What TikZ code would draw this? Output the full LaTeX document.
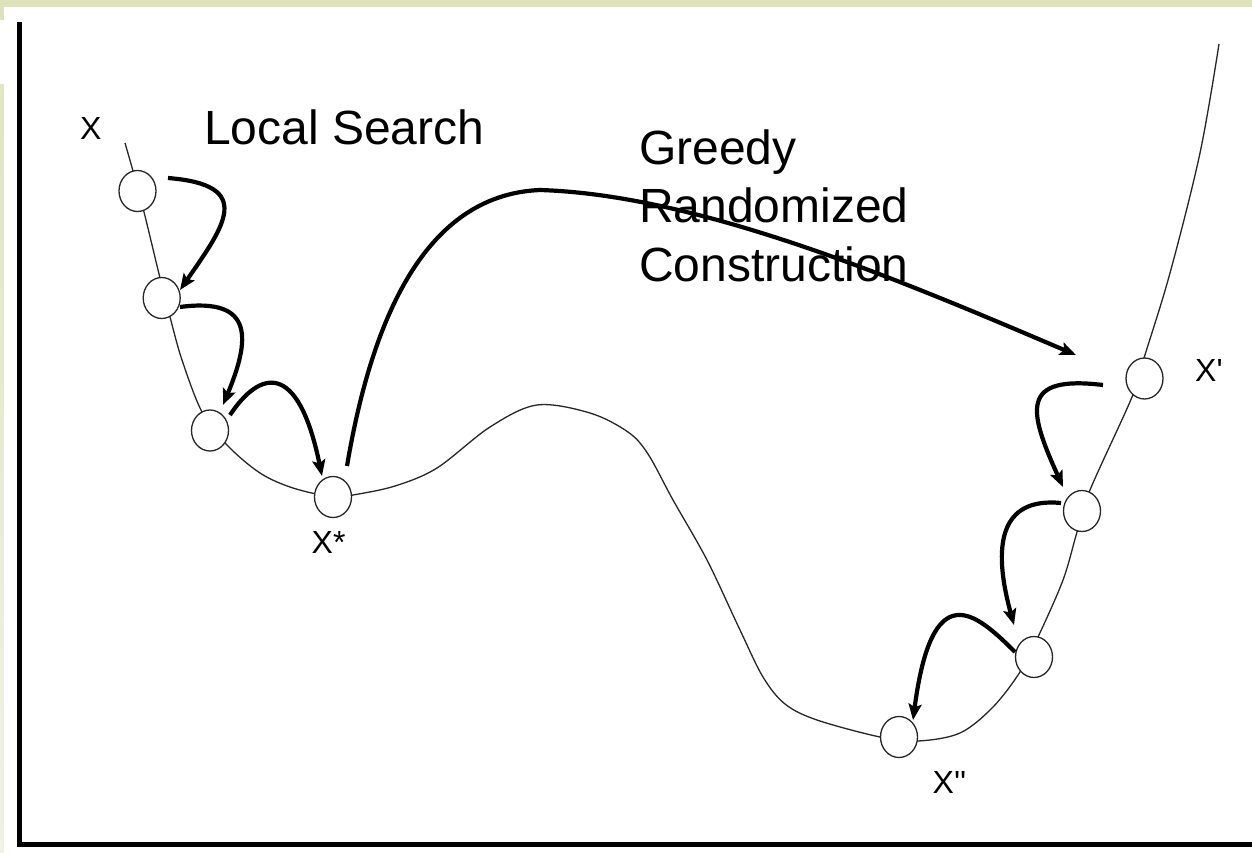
\documentclass[tikz,border=0pt]{standalone}
\usepackage{fontspec}
\setmainfont{Liberation Sans}
\usetikzlibrary{arrows.meta,shapes.geometric}
\definecolor{bandgreen}{RGB}{221,226,185}
\definecolor{bandlight}{RGB}{240,242,226}
\begin{document}
\begin{tikzpicture}[x=1pt,y=-1pt,
  solnode/.style={ellipse, draw=black!85, line width=1.3pt, fill=white,
    minimum width=37pt, minimum height=41pt, inner sep=0pt},
  curveline/.style={black!85, line width=1.3pt},
  lsarrow/.style={line width=4.2pt, -{Stealth[length=16pt,width=13pt,inset=3pt]}},
  axisline/.style={line width=5pt, line join=miter},
  ptlabel/.style={font=\fontsize{32}{38}\selectfont, inner sep=0pt, anchor=base west},
  titletext/.style={font=\fontsize{48}{58}\selectfont, inner sep=0pt, anchor=base west}]
% canvas
\useasboundingbox (0,0) rectangle (1252,853);
\fill[white] (0,0) rectangle (1252,853);
\fill[bandgreen] (0,0) rectangle (1252,7);
\fill[bandgreen] (0,0) rectangle (4,20);
\shade[top color=bandgreen!90!white, bottom color=bandlight] (0,85) rectangle (3.7,853);
% axes
\draw[axisline] (19.8,22) -- (19.8,844) -- (1252,844);
% landscape curve
\draw[curveline] plot[smooth, tension=0.55] coordinates {
 (125,143) (133,171) (144,212) (160,278) (170,317) (182,360) (202,412)
 (227,445) (260,473) (293,488) (333,497) (353,495) (395,486) (437,468)
 (490,427) (537,405) (590,413) (628,432) (648,454) (673,500) (707,560) (740,630)
 (763,677) (785,704) (817,720) (880,737) (918,741) (960,733) (993,707)
 (1020,672) (1038,637) (1063,580) (1077,532) (1090,490) (1132,397)
 (1144,358) (1170,273) (1200,153) (1219,44)};
% solutions
\node[solnode] (c1) at (137.5,191) {};
\node[solnode] (c2) at (161.7,298) {};
\node[solnode] (c3) at (210,430.5) {};
\node[solnode] (c4) at (333,497) {};
\node[solnode] (c5) at (1144.5,378.5) {};
\node[solnode] (c6) at (1082,511) {};
\node[solnode] (c7) at (1034,657) {};
\node[solnode] (c8) at (899,737) {};
% labels
\node[ptlabel] (lx) at (80,140) {X};
\node[ptlabel] (lxs) at (311.5,553) {X*};
\node[ptlabel] (lxp) at (1195,381.7) {X\textquotesingle};
\node[ptlabel] (lxpp) at (932.5,793) {X\textquotesingle\textquotesingle};
\node[titletext] (ls) at (204,145) {Local Search};
\node[titletext] (grc1) at (639,165) {Greedy};
\node[titletext] (grc2) at (639,222.7) {Randomized};
\node[titletext] (grc3) at (639,281.7) {Construction};
% arrow end points
\coordinate (a1s) at (168,178);   \coordinate (a1e) at (180,290);
\coordinate (a2s) at (180,307);   \coordinate (a2e) at (223,405);
\coordinate (a3s) at (230,415);   \coordinate (a3e) at (322,476);
\coordinate (a4s) at (347,466);   \coordinate (a4e) at (1076,355);
\coordinate (a5s) at (1103,385);  \coordinate (a5e) at (1063,487);
\coordinate (a6s) at (1061,503);  \coordinate (a6e) at (1014,625);
\coordinate (a7s) at (1015,652);  \coordinate (a7e) at (913,720);
% local search moves
\draw[lsarrow] (a1s) .. controls (255,185) and (225,225) .. (a1e);
\draw[lsarrow] (a2s) .. controls (255,297) and (250,340) .. (a2e);
\draw[lsarrow] (a3s) .. controls (260,370) and (298,360) .. (a3e);
% greedy randomized construction
\draw[lsarrow] (a4s) .. controls (370,330) and (420,195) .. (540,190)
                     .. controls (700,195) and (900,280) .. (a4e);
% local search on the right
\draw[lsarrow] (a5s) .. controls (1020,375) and (1028,410) .. (a5e);
\draw[lsarrow] (a6s) .. controls (1000,497) and (992,545) .. (a6e);
\draw[lsarrow] (a7s) .. controls (975,612) and (932,575) .. (a7e);
\end{tikzpicture}
\end{document}
